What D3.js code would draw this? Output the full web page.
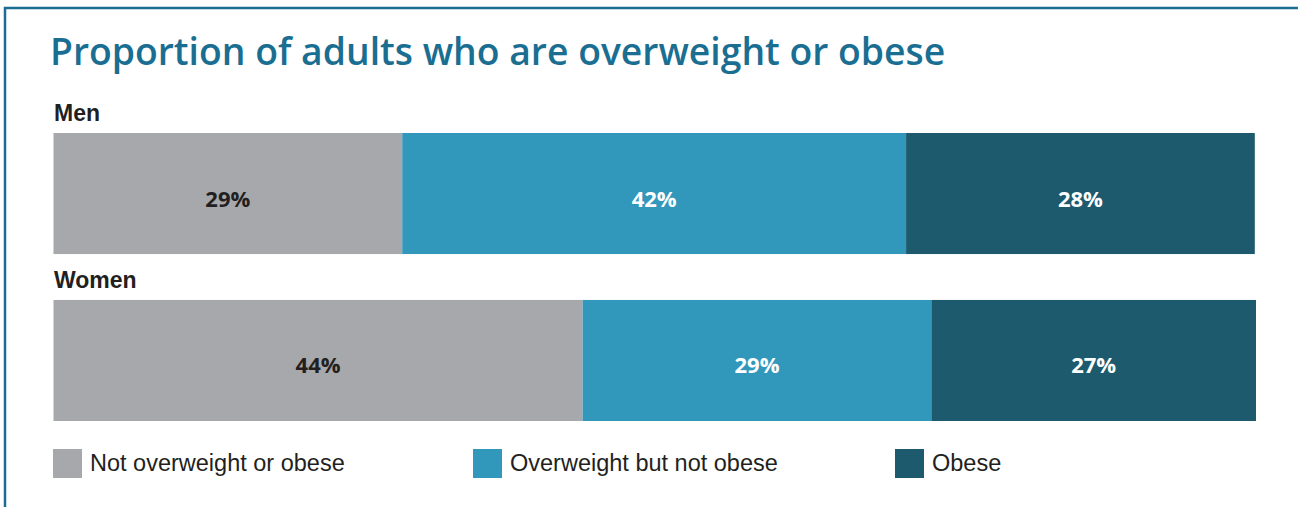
<!DOCTYPE html>
<html lang="en">
<head>
  <meta charset="UTF-8">
  <title>Proportion of adults who are overweight or obese</title>
  <style>
    body { margin: 0; padding: 0; background: #fff; }
    svg { display: block; }
    .title { font-family: "Open Sans", sans-serif; font-weight: 600; fill: #1a6e91; }
    .group-label { font-family: "Liberation Sans", Arial, sans-serif; font-weight: bold; fill: #231f20; }
    .value { font-family: "Open Sans", sans-serif; font-weight: 700; }
    .legend-text { font-family: "Liberation Sans", Arial, sans-serif; fill: #231f20; }
  </style>
</head>
<body>
<div id="chart"></div>
<script src="https://d3js.org/d3.v7.min.js"></script>
<script>
  // Data
  const groups = ["Men", "Women"];
  const categories = ["Not overweight or obese", "Overweight but not obese", "Obese"];
  const menValues = [29.0, 41.9, 29.0];
  const womenValues = [44.0, 29.0, 27.0];
  const menLabels = ["29%", "42%", "28%"];
  const womenLabels = ["44%", "29%", "27%"];
  const colors = ["#a7a8ab", "#3198bb", "#1d5a6e"];
  const labelColors = ["#231f20", "#ffffff", "#ffffff"];

  const width = 1298, height = 507;
  const svg = d3.select("#chart").append("svg")
      .attr("width", width)
      .attr("height", height);

  // frame (left + top edges)
  svg.append("path")
      .attr("d", `M5,${height} L5,8 L${width},8`)
      .attr("fill", "none")
      .attr("stroke", "#1a6e91")
      .attr("stroke-width", 2.5);

  svg.append("text")
      .attr("class", "title")
      .attr("x", 50)
      .attr("y", 65)
      .attr("font-size", 37.3)
      .text("Proportion of adults who are overweight or obese");

  const x = d3.scaleLinear().domain([0, 100]).range([53.5, 1256]);
  const y = d3.scaleBand().domain(groups).range([133, 421]).paddingInner(0.275);

  const rows = [
    { group: "Men", values: menValues, labels: menLabels },
    { group: "Women", values: womenValues, labels: womenLabels }
  ];

  rows.forEach(row => {
    const g = svg.append("g");
    const y0 = y(row.group);
    const bh = y.bandwidth();
    let acc = 0;
    const segs = row.values.map((v, i) => {
      const s = { start: acc, end: acc + v, i: i, label: row.labels[i] };
      acc += v;
      return s;
    });

    g.append("text")
        .attr("class", "group-label")
        .attr("x", 54)
        .attr("y", y0 - 12)
        .attr("font-size", 23)
        .text(row.group);

    g.selectAll("rect")
        .data(segs)
        .join("rect")
        .attr("x", d => x(d.start))
        .attr("y", y0)
        .attr("width", d => x(d.end) - x(d.start))
        .attr("height", bh)
        .attr("fill", d => colors[d.i]);

    g.selectAll("text.value")
        .data(segs)
        .join("text")
        .attr("class", "value")
        .attr("x", d => (x(d.start) + x(d.end)) / 2)
        .attr("y", y0 + bh / 2 + 13)
        .attr("text-anchor", "middle")
        .attr("font-size", 22)
        .attr("fill", d => labelColors[d.i])
        .text(d => d.label);
  });

  // legend
  const legendX = [53, 473, 895];
  const legend = svg.append("g");
  categories.forEach((c, i) => {
    legend.append("rect")
        .attr("x", legendX[i])
        .attr("y", 449)
        .attr("width", 29)
        .attr("height", 29)
        .attr("fill", colors[i]);
    legend.append("text")
        .attr("class", "legend-text")
        .attr("x", legendX[i] + 37)
        .attr("y", 471)
        .attr("font-size", 23.5)
        .text(c);
  });
</script>
</body>
</html>
